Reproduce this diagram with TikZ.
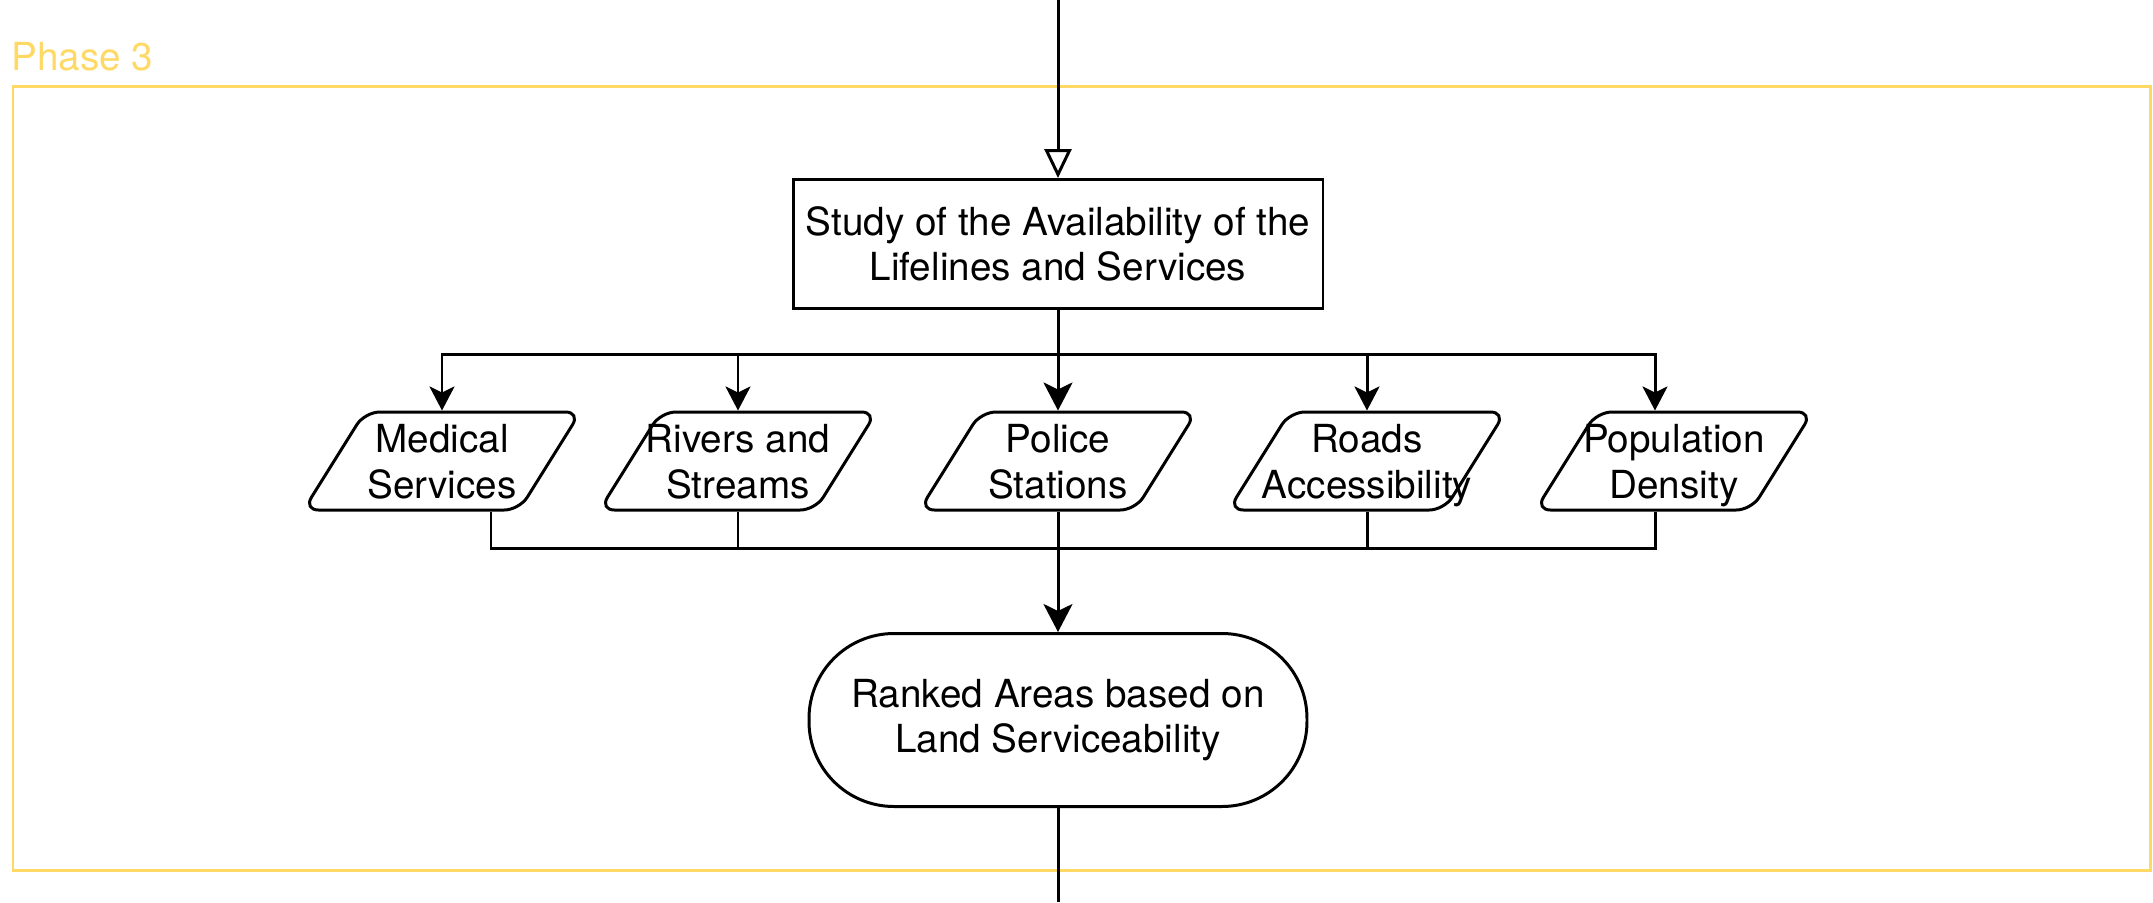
\documentclass[tikz,border=0pt]{standalone}
\usepackage{fontspec}
\setmainfont{TeX Gyre Heros}
\usetikzlibrary{arrows.meta,shapes.geometric}
\definecolor{phaseyellow}{HTML}{FFD966}

\begin{document}
\begin{tikzpicture}[x=0.1mm,y=-0.1mm,line width=0.85pt,
  every node/.style={font=\fontsize{11}{13}\selectfont, align=center},
  arr/.style={-{Stealth[length=2.4mm,width=2.5mm,inset=0.6mm]}},
  bigarr/.style={-{Stealth[length=2.8mm,width=2.9mm,inset=0.7mm]}},
  openarr/.style={-{Triangle[open,length=2.9mm,width=2.7mm,fill=white]}},
  datain/.style={draw, trapezium, trapezium left angle=58, trapezium right angle=122,
    trapezium stretches body=true, minimum width=2.77cm, minimum height=0.98cm,
    text height=0.86cm, text depth=0.12cm, inner sep=0pt, rounded corners=1.5mm},
  process/.style={draw, rectangle, minimum width=5.3cm, minimum height=1.29cm, inner sep=0pt},
  terminal/.style={draw, rectangle, rounded corners=8.5mm, minimum width=4.98cm,
    minimum height=1.73cm, inner sep=0pt}]

  \useasboundingbox (0,0) rectangle (2153,902);

  % phase frame
  \draw[phaseyellow] (13,86) rectangle (2150,870);
  \node[anchor=base west, text=phaseyellow, inner sep=0pt] (phase) at (10,70) {Phase 3};

  % nodes
  \coordinate (in) at (1058,0);
  \coordinate (out) at (1058,902);
  \node[process] (study) at (1058,244) {Study of the Availability of the\\Lifelines and Services};
  \node[datain] (medical) at (442,461) {\makebox[0pt]{Medical}\\\makebox[0pt]{Services}};
  \node[datain] (rivers) at (738,461) {\makebox[0pt]{Rivers and}\\\makebox[0pt]{Streams}};
  \node[datain] (police) at (1058,461) {\makebox[0pt]{Police}\\\makebox[0pt]{Stations}};
  \node[datain] (roads) at (1367,461) {\makebox[0pt]{Roads}\\\makebox[0pt]{Accessibility}};
  \node[datain] (population) at (1674,461) {\makebox[0pt]{Population}\\\makebox[0pt]{Density}};
  \node[terminal] (ranked) at (1058,720) {Ranked Areas based on\\Land Serviceability};
  \coordinate (split) at (1058,354);
  \coordinate (join) at (1058,548);

  % connectors
  \draw[openarr] (in) -- (study);
  \draw (study) -- (split);
  \draw[arr] (split) -| (medical.north);
  \draw[arr] (split) -| (rivers.north);
  \draw[bigarr] (split) -- (police);
  \draw[arr] (split) -| (roads.north);
  \draw[arr] (split) -| ([xshift=-1.9mm]population.north);
  \draw ([xshift=4.9mm]medical.south) |- (join) -| ([xshift=-1.9mm]population.south);
  \draw (rivers.south) -- (rivers.south |- join);
  \draw (roads.south) -- (roads.south |- join);
  \draw[bigarr] (police) -- (ranked);
  \draw (ranked) -- (out);
\end{tikzpicture}
\end{document}
